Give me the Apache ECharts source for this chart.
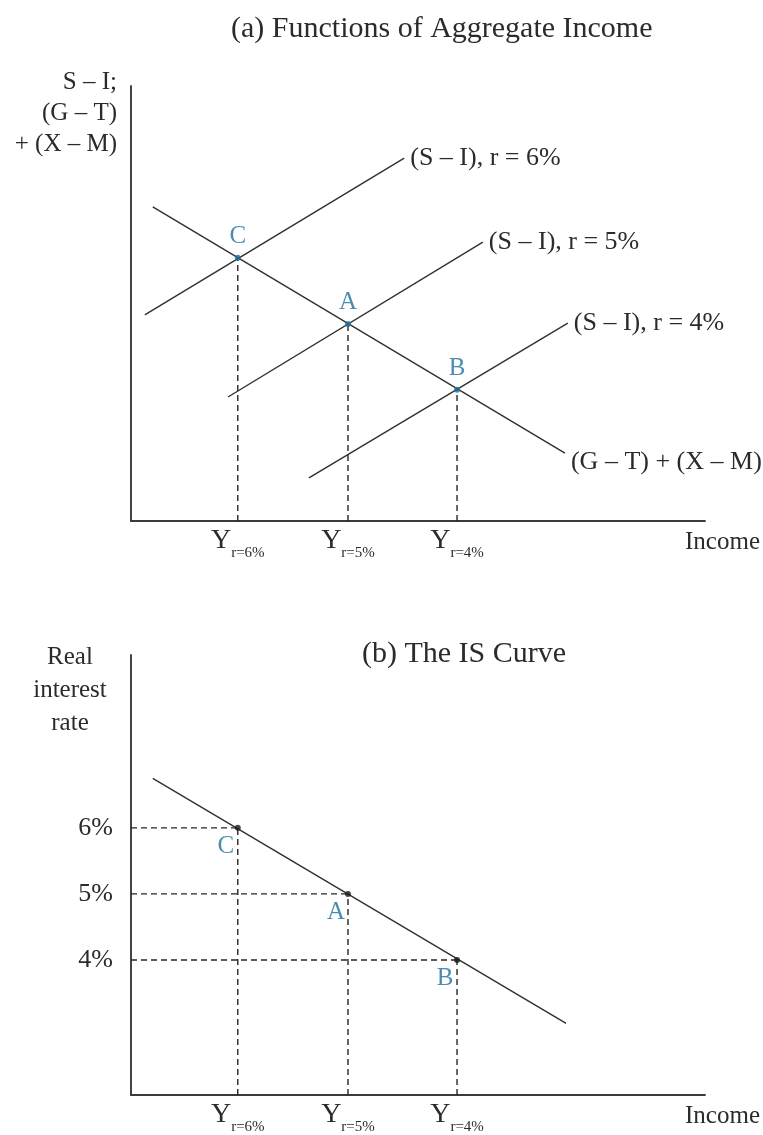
<!DOCTYPE html>
<html>
<head>
<meta charset="utf-8">
<title>Functions of Aggregate Income and the IS Curve</title>
<script src="https://cdn.jsdelivr.net/npm/echarts@6/dist/echarts.min.js"></script>
<style>
  html, body { margin: 0; padding: 0; background: #ffffff; }
  #chart { width: 763px; height: 1135px; }
</style>
</head>
<body>
<div id="chart"></div>
<script>
// ---- data -------------------------------------------------------------
// Income on a 0–100 index scale; panel (a) vertical axis also 0–100.
const incomeTicks = [18.6, 37.8, 56.8];                 // Y at r = 6%, 5%, 4%
const incomeTickSubs = ['r=6%', 'r=5%', 'r=4%'];

// Panel (a): (G – T) + (X – M), downward sloping in income
const gtxmLine = [[3.8, 72.2], [75.6, 15.6]];
// Panel (a): (S – I) schedules, one per real interest rate
const siLine6 = [[2.4, 47.4], [47.6, 83.4]];
const siLine5 = [[16.9, 28.5], [61.3, 64.1]];
const siLine4 = [[31.0, 9.9], [76.1, 45.5]];
const siNames = ['(S – I), r = 6%', '(S – I), r = 5%', '(S – I), r = 4%'];
// Equilibria where each (S – I) meets (G – T) + (X – M)
const eqNames = ['C', 'A', 'B'];
const eqIncome = [18.6, 37.8, 56.8];
const eqBalance = [60.5, 45.3, 30.2];

// Panel (b): IS curve (real interest rate, %)
const isCurve = [[3.8, 6.75], [75.8, 3.04]];
const rateTicks = [6, 5, 4];
const eqRate = [6, 5, 4];

// ---- styling ----------------------------------------------------------
const FONT = '"Liberation Serif", "Times New Roman", serif';
const INK = '#2b2b2b';
const BLUE = '#1f6f9f';
const RATE_MIN = 1.955, RATE_MAX = 8.617;

const lineStyle = { color: '#303030', width: 1.4 };
const dashStyle = { color: '#262626', width: 1.4, type: [6, 4] };

function incomeAxis(gridIndex) {
  return {
    type: 'value', gridIndex, min: 0, max: 100,
    name: 'Income', nameLocation: 'end', nameGap: 55,
    nameTextStyle: { fontFamily: FONT, fontSize: 25, color: INK,
                     align: 'right', verticalAlign: 'top', padding: [9, 0, 0, 0] },
    axisLine: { show: true, onZero: false, lineStyle: { color: '#3a3a3a', width: 1.9 } },
    axisTick: { show: false },
    splitLine: { show: false },
    axisLabel: {
      customValues: incomeTicks,
      margin: 6,
      formatter: v => {
        const i = incomeTicks.indexOf(v);
        return i < 0 ? '' : '{Y|Y}{s|' + incomeTickSubs[i] + '}';
      },
      rich: {
        Y: { fontFamily: FONT, fontSize: 28, lineHeight: 28, color: INK, verticalAlign: 'top' },
        s: { fontFamily: FONT, fontSize: 15, lineHeight: 15, color: INK, verticalAlign: 'top',
             padding: [19, 0, 0, 0] }
      }
    }
  };
}

function straight(data, name, xi, yi, labelOffset) {
  const s = {
    type: 'line', name, xAxisIndex: xi, yAxisIndex: yi, data,
    symbol: 'none', lineStyle, silent: true, z: 3
  };
  if (labelOffset) {
    s.endLabel = { show: true, formatter: name, distance: 6, offset: labelOffset,
                   fontFamily: FONT, fontSize: 26, color: INK };
  }
  return s;
}

function dashed(data, xi, yi) {
  return { type: 'line', xAxisIndex: xi, yAxisIndex: yi, data, symbol: 'none',
           lineStyle: dashStyle, silent: true, z: 2 };
}

const series = [];

// Panel (a)
series.push(straight(gtxmLine, '(G – T) + (X – M)', 0, 0, [0, 9]));
series.push(straight(siLine6, siNames[0], 0, 0, [0, 0]));
series.push(straight(siLine5, siNames[1], 0, 0, [0, 0]));
series.push(straight(siLine4, siNames[2], 0, 0, [0, 0]));
eqIncome.forEach((x, i) => series.push(dashed([[x, 0], [x, eqBalance[i]]], 0, 0)));
series.push({
  type: 'scatter', xAxisIndex: 0, yAxisIndex: 0, symbolSize: 6, z: 5,
  itemStyle: { color: BLUE },
  data: eqIncome.map((x, i) => ({ name: eqNames[i], value: [x, eqBalance[i]] })),
  label: { show: true, position: 'top', distance: 6, formatter: '{b}',
           fontFamily: FONT, fontSize: 25, color: BLUE }
});

// Panel (b)
series.push(straight(isCurve, 'IS', 1, 1, null));
eqIncome.forEach((x, i) => {
  series.push(dashed([[0, eqRate[i]], [x, eqRate[i]]], 1, 1));
  series.push(dashed([[x, RATE_MIN], [x, eqRate[i]]], 1, 1));
});
series.push({
  type: 'scatter', xAxisIndex: 1, yAxisIndex: 1, symbolSize: 6, z: 5,
  itemStyle: { color: '#1a1a1a' },
  data: eqIncome.map((x, i) => ({ name: eqNames[i], value: [x, eqRate[i]] })),
  label: { show: true, position: 'bottom', distance: 3, offset: [-12, 0], formatter: '{b}',
           fontFamily: FONT, fontSize: 25, color: BLUE }
});

const option = {
  animation: false,
  backgroundColor: '#ffffff',
  title: [
    { text: '(a) Functions of Aggregate Income', left: 231, top: 14, padding: 0,
      textStyle: { fontFamily: FONT, fontSize: 30, fontWeight: 'normal', color: INK } },
    { text: '(b) The IS Curve', left: 362, top: 639, padding: 0,
      textStyle: { fontFamily: FONT, fontSize: 30, fontWeight: 'normal', color: INK } }
  ],
  grid: [
    { left: 131, top: 86, width: 574, height: 435 },
    { left: 131, top: 655, width: 574, height: 443 }
  ],
  xAxis: [incomeAxis(0), incomeAxis(1)],
  yAxis: [
    {
      type: 'value', gridIndex: 0, min: 0, max: 100,
      name: 'S – I;\n(G – T)\n+ (X – M)', nameLocation: 'end', nameGap: 19,
      nameTextStyle: { fontFamily: FONT, fontSize: 25, color: INK, lineHeight: 31,
                       align: 'right', verticalAlign: 'top', padding: [0, 14, 0, 0] },
      axisLine: { show: true, onZero: false, lineStyle: { color: '#3a3a3a', width: 1.9 } },
      axisTick: { show: false }, splitLine: { show: false }, axisLabel: { show: false }
    },
    {
      type: 'value', gridIndex: 1, min: RATE_MIN, max: RATE_MAX,
      name: 'Real\ninterest\nrate', nameLocation: 'end', nameGap: 14,
      nameTextStyle: { fontFamily: FONT, fontSize: 25, color: INK, lineHeight: 33,
                       align: 'center', verticalAlign: 'top', padding: [0, 122, 0, 0] },
      axisLine: { show: true, onZero: false, lineStyle: { color: '#3a3a3a', width: 1.9 } },
      axisTick: { show: false }, splitLine: { show: false },
      axisLabel: { customValues: rateTicks, formatter: v => v + '%', margin: 18,
                   fontFamily: FONT, fontSize: 26, color: INK }
    }
  ],
  series
};

echarts.init(document.getElementById('chart'), null, { renderer: 'canvas' }).setOption(option);
</script>
</body>
</html>
